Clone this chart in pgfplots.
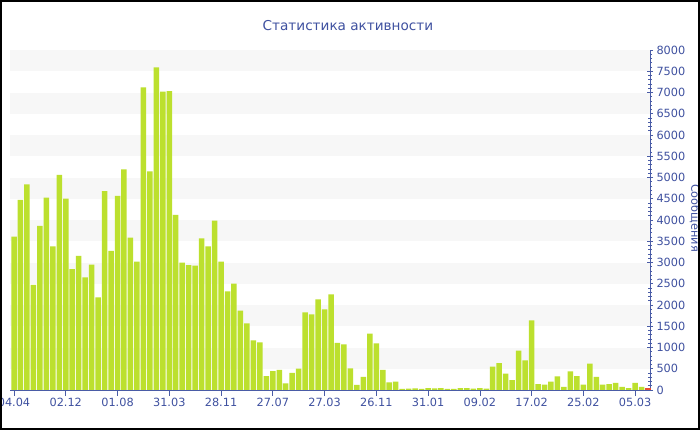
\documentclass[border=0pt]{standalone}
\usepackage{pgfplots}
\pgfplotsset{compat=1.18}
\usepackage{fontspec}
\setmainfont{DejaVu Sans}
\definecolor{barg}{HTML}{BCE02E}
\definecolor{barr}{HTML}{E8502F}
\definecolor{band}{HTML}{F7F7F7}
\definecolor{axblue}{HTML}{4A5CA6}
\definecolor{txtblue}{HTML}{3F51A0}
\begin{document}
\begin{tikzpicture}
\useasboundingbox (-10pt,-40pt) rectangle (690pt,390pt);
\begin{scope}
\clip (-10pt,-40pt) rectangle (690pt,390pt);
\fill[white] (-10pt,-40pt) rectangle (690pt,390pt);
\begin{axis}[
  at={(0pt,0pt)}, anchor=origin,
  scale only axis, width=640pt, height=340pt,
  xmin=0.38, xmax=99.31, ymin=0, ymax=8000,
  axis x line*=bottom, axis y line*=right,
  axis line style={axblue, line width=0.8pt},
  ybar, bar width=0.85, bar shift=0pt,
  xtick={1,9,17,25,33,41,49,57,65,73,81,89,97},
  xticklabels={04.04,02.12,01.08,31.03,28.11,27.07,27.03,26.11,31.01,09.02,17.02,25.02,05.03},
  ytick={0,500,...,8000},
  minor y tick num=4,
  xtick align=outside, ytick align=center,
  major tick length=6pt, minor tick length=4pt,
  every tick/.style={axblue, line width=0.6pt},
  tick label style={font=\fontsize{11.3}{13}\selectfont, text=txtblue},
  xticklabel style={yshift=1pt},
  yticklabel style={xshift=0pt},
  /pgf/number format/assume math mode=true,
  /pgf/number format/set thousands separator={},
  scaled y ticks=false,
  title={Статистика активности},
  title style={at={(0.528,1)}, anchor=center, yshift=18pt, font=\fontsize{13.6}{16}\selectfont, text=txtblue},
  clip=false,
]
\pgfplotsinvokeforeach{500,1500,2500,3500,4500,5500,6500,7500}{
  \fill[band] (axis cs:0.38,#1) rectangle (axis cs:99.31,#1+500);
}
\addplot[fill=barg, draw=none] coordinates {
(1,3608) (2,4471) (3,4839) (4,2471) (5,3859) (6,4525) (7,3380) (8,5059) (9,4502) (10,2847)
(11,3153) (12,2651) (13,2949) (14,2180) (15,4682) (16,3271) (17,4565) (18,5192) (19,3584) (20,3020)
(21,7121) (22,5145) (23,7592) (24,7019) (25,7035) (26,4118) (27,2996) (28,2941) (29,2925) (30,3569)
(31,3380) (32,3984) (33,3020) (34,2321) (35,2502) (36,1867) (37,1569) (38,1169) (39,1122) (40,329)
(41,447) (42,471) (43,157) (44,400) (45,502) (46,1827) (47,1780) (48,2133) (49,1898) (50,2251)
(51,1106) (52,1074) (53,510) (54,118) (55,306) (56,1325) (57,1098) (58,471) (59,180) (60,196)
(61,24) (62,31) (63,39) (64,24) (65,47) (66,39) (67,47) (68,24) (69,24) (70,47)
(71,47) (72,31) (73,47) (74,31) (75,549) (76,635) (77,384) (78,235) (79,925) (80,698)
(81,1639) (82,141) (83,125) (84,196) (85,322) (86,71) (87,439) (88,329) (89,125) (90,620)
(91,306) (92,125) (93,141) (94,165) (95,71) (96,47) (97,165) (98,71)
};
\addplot[fill=barr, draw=none] coordinates {(99,47)};
\end{axis}
\node[rotate=-90, font=\fontsize{11.3}{13}\selectfont, text=txtblue] at (685pt,172pt) {Сообщения};
\end{scope}
\draw[black, line width=2pt] (-9pt,-39pt) rectangle (689pt,389pt);
\end{tikzpicture}
\end{document}
